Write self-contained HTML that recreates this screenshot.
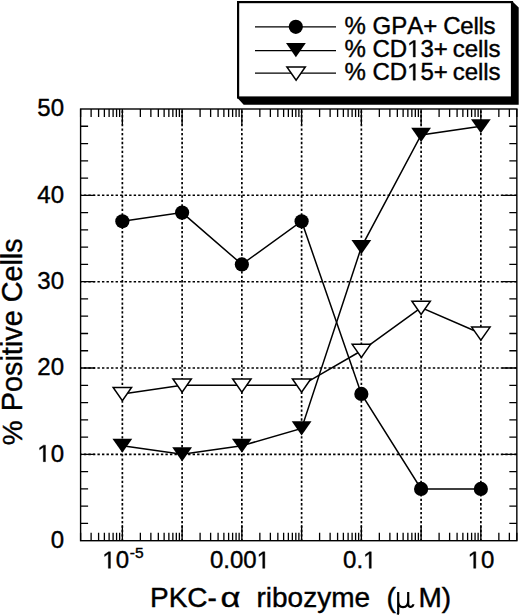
<!DOCTYPE html><html><head><meta charset="utf-8"><style>html,body{margin:0;padding:0;background:#fff;}svg{display:block;}text{font-family:"Liberation Sans",sans-serif;fill:#000;stroke:#000;stroke-width:0.4px;font-kerning:none;}</style></head><body>
<svg width="520" height="616" viewBox="0 0 520 616">
<rect width="520" height="616" fill="#fff"/>
<line x1="80.60" y1="454.36" x2="516.84" y2="454.36" stroke="#000" stroke-width="1.55" stroke-dasharray="2.4 2.132" stroke-dashoffset="1.3"/>
<line x1="80.60" y1="368.02" x2="516.84" y2="368.02" stroke="#000" stroke-width="1.55" stroke-dasharray="2.4 2.132" stroke-dashoffset="1.3"/>
<line x1="80.60" y1="281.68" x2="516.84" y2="281.68" stroke="#000" stroke-width="1.55" stroke-dasharray="2.4 2.132" stroke-dashoffset="1.3"/>
<line x1="80.60" y1="195.34" x2="516.84" y2="195.34" stroke="#000" stroke-width="1.55" stroke-dasharray="2.4 2.132" stroke-dashoffset="1.3"/>
<line x1="122.36" y1="109.00" x2="122.36" y2="540.70" stroke="#000" stroke-width="1.7" stroke-dasharray="2.3 2.16" stroke-dashoffset="2.84"/>
<line x1="182.11" y1="109.00" x2="182.11" y2="540.70" stroke="#000" stroke-width="1.7" stroke-dasharray="2.3 2.16" stroke-dashoffset="2.84"/>
<line x1="241.86" y1="109.00" x2="241.86" y2="540.70" stroke="#000" stroke-width="1.7" stroke-dasharray="2.3 2.16" stroke-dashoffset="2.84"/>
<line x1="301.61" y1="109.00" x2="301.61" y2="540.70" stroke="#000" stroke-width="1.7" stroke-dasharray="2.3 2.16" stroke-dashoffset="2.84"/>
<line x1="361.36" y1="109.00" x2="361.36" y2="540.70" stroke="#000" stroke-width="1.7" stroke-dasharray="2.3 2.16" stroke-dashoffset="2.84"/>
<line x1="421.11" y1="109.00" x2="421.11" y2="540.70" stroke="#000" stroke-width="1.7" stroke-dasharray="2.3 2.16" stroke-dashoffset="2.84"/>
<line x1="480.86" y1="109.00" x2="480.86" y2="540.70" stroke="#000" stroke-width="1.7" stroke-dasharray="2.3 2.16" stroke-dashoffset="2.84"/>
<path d="M80.60 523.43h7.5M516.84 523.43h-7.5M80.60 506.16h7.5M516.84 506.16h-7.5M80.60 488.90h7.5M516.84 488.90h-7.5M80.60 471.63h7.5M516.84 471.63h-7.5M80.60 454.36h14.5M516.84 454.36h-14.5M80.60 437.09h7.5M516.84 437.09h-7.5M80.60 419.82h7.5M516.84 419.82h-7.5M80.60 402.56h7.5M516.84 402.56h-7.5M80.60 385.29h7.5M516.84 385.29h-7.5M80.60 368.02h14.5M516.84 368.02h-14.5M80.60 350.75h7.5M516.84 350.75h-7.5M80.60 333.48h7.5M516.84 333.48h-7.5M80.60 316.22h7.5M516.84 316.22h-7.5M80.60 298.95h7.5M516.84 298.95h-7.5M80.60 281.68h14.5M516.84 281.68h-14.5M80.60 264.41h7.5M516.84 264.41h-7.5M80.60 247.14h7.5M516.84 247.14h-7.5M80.60 229.88h7.5M516.84 229.88h-7.5M80.60 212.61h7.5M516.84 212.61h-7.5M80.60 195.34h14.5M516.84 195.34h-14.5M80.60 178.07h7.5M516.84 178.07h-7.5M80.60 160.80h7.5M516.84 160.80h-7.5M80.60 143.54h7.5M516.84 143.54h-7.5M80.60 126.27h7.5M516.84 126.27h-7.5M80.60 540.70v-8M80.60 109.00v8M91.12 540.70v-8M91.12 109.00v8M98.59 540.70v-8M98.59 109.00v8M104.38 540.70v-8M104.38 109.00v8M109.11 540.70v-8M109.11 109.00v8M113.11 540.70v-8M113.11 109.00v8M116.57 540.70v-8M116.57 109.00v8M119.63 540.70v-8M119.63 109.00v8M122.36 540.70v-15.5M122.36 109.00v15.5M140.35 540.70v-8M140.35 109.00v8M150.87 540.70v-8M150.87 109.00v8M158.34 540.70v-8M158.34 109.00v8M164.13 540.70v-8M164.13 109.00v8M168.86 540.70v-8M168.86 109.00v8M172.86 540.70v-8M172.86 109.00v8M176.32 540.70v-8M176.32 109.00v8M179.38 540.70v-8M179.38 109.00v8M182.11 540.70v-15.5M182.11 109.00v15.5M200.10 540.70v-8M200.10 109.00v8M210.62 540.70v-8M210.62 109.00v8M218.09 540.70v-8M218.09 109.00v8M223.88 540.70v-8M223.88 109.00v8M228.61 540.70v-8M228.61 109.00v8M232.61 540.70v-8M232.61 109.00v8M236.07 540.70v-8M236.07 109.00v8M239.13 540.70v-8M239.13 109.00v8M241.86 540.70v-15.5M241.86 109.00v15.5M259.85 540.70v-8M259.85 109.00v8M270.37 540.70v-8M270.37 109.00v8M277.84 540.70v-8M277.84 109.00v8M283.63 540.70v-8M283.63 109.00v8M288.36 540.70v-8M288.36 109.00v8M292.36 540.70v-8M292.36 109.00v8M295.82 540.70v-8M295.82 109.00v8M298.88 540.70v-8M298.88 109.00v8M301.61 540.70v-15.5M301.61 109.00v15.5M319.60 540.70v-8M319.60 109.00v8M330.12 540.70v-8M330.12 109.00v8M337.59 540.70v-8M337.59 109.00v8M343.38 540.70v-8M343.38 109.00v8M348.11 540.70v-8M348.11 109.00v8M352.11 540.70v-8M352.11 109.00v8M355.57 540.70v-8M355.57 109.00v8M358.63 540.70v-8M358.63 109.00v8M361.36 540.70v-15.5M361.36 109.00v15.5M379.35 540.70v-8M379.35 109.00v8M389.87 540.70v-8M389.87 109.00v8M397.34 540.70v-8M397.34 109.00v8M403.13 540.70v-8M403.13 109.00v8M407.86 540.70v-8M407.86 109.00v8M411.86 540.70v-8M411.86 109.00v8M415.32 540.70v-8M415.32 109.00v8M418.38 540.70v-8M418.38 109.00v8M421.11 540.70v-15.5M421.11 109.00v15.5M439.10 540.70v-8M439.10 109.00v8M449.62 540.70v-8M449.62 109.00v8M457.09 540.70v-8M457.09 109.00v8M462.88 540.70v-8M462.88 109.00v8M467.61 540.70v-8M467.61 109.00v8M471.61 540.70v-8M471.61 109.00v8M475.07 540.70v-8M475.07 109.00v8M478.13 540.70v-8M478.13 109.00v8M480.86 540.70v-15.5M480.86 109.00v15.5M498.85 540.70v-8M498.85 109.00v8M509.37 540.70v-8M509.37 109.00v8M516.84 540.70v-8M516.84 109.00v8" stroke="#000" stroke-width="1.3" fill="none"/>
<rect x="80.60" y="109.00" width="436.24" height="431.70" fill="none" stroke="#000" stroke-width="1.4"/>
<polyline points="122.36,221.24 182.11,212.61 241.86,264.41 301.61,221.24 361.36,393.92 421.11,488.90 480.86,488.90" fill="none" stroke="#000" stroke-width="1.5"/>
<polyline points="122.36,445.73 182.11,454.36 241.86,445.73 301.61,428.46 361.36,247.14 421.11,134.90 480.86,126.27" fill="none" stroke="#000" stroke-width="1.5"/>
<polyline points="122.36,393.92 182.11,385.29 241.86,385.29 301.61,385.29 361.36,350.75 421.11,307.58 480.86,333.48" fill="none" stroke="#000" stroke-width="1.5"/>
<polygon points="113.16,387.52 131.56,387.52 122.36,400.72" fill="#fff" stroke="#000" stroke-width="1.5" stroke-linejoin="miter"/>
<polygon points="172.91,378.89 191.31,378.89 182.11,392.09" fill="#fff" stroke="#000" stroke-width="1.5" stroke-linejoin="miter"/>
<polygon points="232.66,378.89 251.06,378.89 241.86,392.09" fill="#fff" stroke="#000" stroke-width="1.5" stroke-linejoin="miter"/>
<polygon points="292.41,378.89 310.81,378.89 301.61,392.09" fill="#fff" stroke="#000" stroke-width="1.5" stroke-linejoin="miter"/>
<polygon points="352.16,344.35 370.56,344.35 361.36,357.55" fill="#fff" stroke="#000" stroke-width="1.5" stroke-linejoin="miter"/>
<polygon points="411.91,301.18 430.31,301.18 421.11,314.38" fill="#fff" stroke="#000" stroke-width="1.5" stroke-linejoin="miter"/>
<polygon points="471.66,327.08 490.06,327.08 480.86,340.28" fill="#fff" stroke="#000" stroke-width="1.5" stroke-linejoin="miter"/>
<polygon points="112.46,438.63 132.26,438.63 122.36,452.83" fill="#000"/>
<polygon points="172.21,447.26 192.01,447.26 182.11,461.46" fill="#000"/>
<polygon points="231.96,438.63 251.76,438.63 241.86,452.83" fill="#000"/>
<polygon points="291.71,421.36 311.51,421.36 301.61,435.56" fill="#000"/>
<polygon points="351.46,240.04 371.26,240.04 361.36,254.24" fill="#000"/>
<polygon points="411.21,127.80 431.01,127.80 421.11,142.00" fill="#000"/>
<polygon points="470.96,119.17 490.76,119.17 480.86,133.37" fill="#000"/>
<circle cx="122.36" cy="221.24" r="7.1" fill="#000"/>
<circle cx="182.11" cy="212.61" r="7.1" fill="#000"/>
<circle cx="241.86" cy="264.41" r="7.1" fill="#000"/>
<circle cx="301.61" cy="221.24" r="7.1" fill="#000"/>
<circle cx="361.36" cy="393.92" r="7.1" fill="#000"/>
<circle cx="421.11" cy="488.90" r="7.1" fill="#000"/>
<circle cx="480.86" cy="488.90" r="7.1" fill="#000"/>
<text class="d" x="64" y="548.00" font-size="24" text-anchor="end">0</text>
<text class="d" x="64" y="461.66" font-size="24" text-anchor="end"> 0</text>
<text class="d" x="64" y="375.32" font-size="24" text-anchor="end">20</text>
<text class="d" x="64" y="288.98" font-size="24" text-anchor="end">30</text>
<text class="d" x="64" y="202.64" font-size="24" text-anchor="end">40</text>
<text class="d" x="64" y="116.30" font-size="24" text-anchor="end">50</text>
<text class="d" x="102.3" y="568.3" font-size="24"> 0<tspan font-size="15.5" dx="0.8" dy="-10.8">-5</tspan></text>
<text class="d" x="240" y="568.3" font-size="24" text-anchor="middle">0.00 </text>
<text class="d" x="359.8" y="568.3" font-size="24" text-anchor="middle">0. </text>
<text class="d" x="481" y="568.3" font-size="24" text-anchor="middle"> 0</text>
<text transform="translate(22.1,0) rotate(-90)" font-size="28"><tspan x="-445.2">%</tspan><tspan x="-411.2" font-size="28.8">Positive Cells</tspan></text>
<text y="607.4" font-size="28"><tspan x="150">PKC-</tspan><tspan x="256.5">ribozyme</tspan><tspan x="386.5">(</tspan><tspan x="418.5">M)</tspan></text>
<text transform="translate(220.6,607) scale(1.15,0.94)" font-family="Liberation Serif" font-size="30">α</text>
<path d="M398.2,592V613.2L397.6,614.6M398.2,601C398.2,605.6 400.4,607.1 403,607.1C406,607.1 408.2,605 408.2,601M408.2,592V603.6C408.2,606.3 409.4,607.1 410.8,606.9C412.3,606.6 413.2,605.6 413.6,604.2" fill="none" stroke="#000" stroke-width="2.2"/>
<polygon points="512,1 518.7,7.5 518.7,104.8 243.7,104.8 237,97.5 512,97.5" fill="#000"/>
<rect x="238.1" y="2.1" width="273.9" height="95.4" fill="#fff" stroke="#000" stroke-width="2.2"/>
<line x1="255" y1="26.8" x2="336" y2="26.8" stroke="#000" stroke-width="1.3"/>
<circle cx="295.8" cy="26.8" r="7.1" fill="#000"/>
<text class="d" x="344.5" y="33.5" font-size="24">%<tspan x="372.5">GPA+</tspan><tspan x="443.3" letter-spacing="-0.3">Cells</tspan></text>
<line x1="255" y1="50.6" x2="336" y2="50.6" stroke="#000" stroke-width="1.3"/>
<polygon points="286.00,43.10 305.80,43.10 295.90,57.30" fill="#000"/>
<text class="d" x="344.5" y="57" font-size="24">%<tspan x="372.5">CD 3+</tspan><tspan x="452.8" letter-spacing="-0.1">cells</tspan></text>
<line x1="255" y1="73.2" x2="336" y2="73.2" stroke="#000" stroke-width="1.3"/>
<polygon points="286.90,66.90 305.30,66.90 296.10,80.10" fill="#fff" stroke="#000" stroke-width="1.5"/>
<text class="d" x="344.5" y="80.2" font-size="24">%<tspan x="372.5">CD 5+</tspan><tspan x="452.8" letter-spacing="-0.1">cells</tspan></text>
<path transform="translate(37.30,461.66) scale(0.011719,-0.011719)" d="M515 0V1237L197 1010V1180L530 1409H696V0Z" stroke="#000" stroke-width="34.1"/>
<path transform="translate(102.30,568.30) scale(0.011719,-0.011719)" d="M515 0V1237L197 1010V1180L530 1409H696V0Z" stroke="#000" stroke-width="34.1"/>
<path transform="translate(256.67,568.30) scale(0.011719,-0.011719)" d="M515 0V1237L197 1010V1180L530 1409H696V0Z" stroke="#000" stroke-width="34.1"/>
<path transform="translate(363.13,568.30) scale(0.011719,-0.011719)" d="M515 0V1237L197 1010V1180L530 1409H696V0Z" stroke="#000" stroke-width="34.1"/>
<path transform="translate(467.65,568.30) scale(0.011719,-0.011719)" d="M515 0V1237L197 1010V1180L530 1409H696V0Z" stroke="#000" stroke-width="34.1"/>
<path transform="translate(407.16,57.00) scale(0.011719,-0.011719)" d="M515 0V1237L197 1010V1180L530 1409H696V0Z" stroke="#000" stroke-width="34.1"/>
<path transform="translate(407.16,80.20) scale(0.011719,-0.011719)" d="M515 0V1237L197 1010V1180L530 1409H696V0Z" stroke="#000" stroke-width="34.1"/>
</svg></body></html>
